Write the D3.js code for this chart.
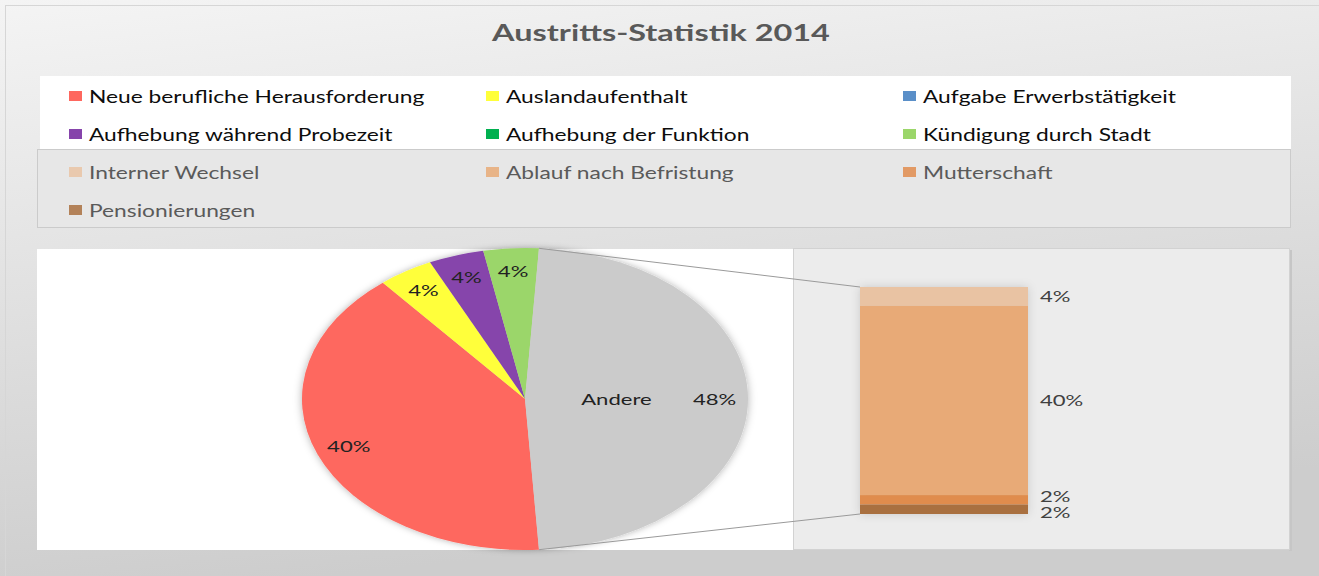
<!DOCTYPE html>
<html>
<head>
<meta charset="utf-8">
<script src="https://cdn.jsdelivr.net/npm/d3@7"></script>
<style>
  html, body { margin: 0; padding: 0; background: #fff; }
  svg { display: block; }
  text { font-family: Lato, "Open Sans", sans-serif; }
</style>
</head>
<body>
<div id="chart"></div>
<script>
// data (percent of all exits)
const title = 'Austritts-Statistik 2014';
const categories = [
  'Neue berufliche Herausforderung', 'Auslandaufenthalt', 'Aufgabe Erwerbstätigkeit',
  'Aufhebung während Probezeit', 'Aufhebung der Funktion', 'Kündigung durch Stadt',
  'Interner Wechsel', 'Ablauf nach Befristung', 'Mutterschaft', 'Pensionierungen'
];
const values = [40, 4, 0, 4, 0, 4, 4, 40, 2, 2];
const colors = [
  '#fe675e', '#ffff3a', '#5a8fc8', '#8644ab', '#00b050', '#9bd66a',
  '#e9c3a3', '#e8aa77', '#e08c4d', '#a9703f'
];
const otherCount = 4;          // last four categories are pulled into the bar
const otherLabel = 'Andere';
const otherColor = '#cbcbcb';

const W = 1319, H = 576;
const SX = 1.38;               // the original picture is stretched sideways
const pct = d3.format('.0%');

const svg = d3.select('#chart').append('svg')
  .attr('width', W).attr('height', H);

const defs = svg.append('defs');
const bg = defs.append('linearGradient').attr('id', 'bg')
  .attr('x1', 0).attr('y1', 0).attr('x2', 0.25).attr('y2', 1);
bg.append('stop').attr('offset', '0%').attr('stop-color', '#f4f4f4');
bg.append('stop').attr('offset', '100%').attr('stop-color', '#cdcdcd');

const glow = defs.append('filter').attr('id', 'glow')
  .attr('x', '-10%').attr('y', '-10%').attr('width', '120%').attr('height', '120%');
glow.append('feDropShadow').attr('dx', 0).attr('dy', 0)
  .attr('stdDeviation', 3).attr('flood-color', '#000').attr('flood-opacity', 0.3);

const glow2 = defs.append('filter').attr('id', 'glow2')
  .attr('x', '-20%').attr('y', '-20%').attr('width', '140%').attr('height', '140%');
glow2.append('feDropShadow').attr('dx', 0).attr('dy', 0)
  .attr('stdDeviation', 5).attr('flood-color', '#000').attr('flood-opacity', 0.15);

// stretched text helper
function label(parent, x, y, str, opts = {}) {
  return parent.append('text')
    .attr('transform', `translate(${x},${y}) scale(${SX},1)`)
    .attr('text-anchor', opts.anchor || 'start')
    .attr('dy', '0.35em')
    .attr('font-size', opts.size || 16)
    .attr('font-weight', opts.weight || 'normal')
    .attr('fill', opts.fill || '#222')
    .text(str);
}

// background and frame
svg.append('rect').attr('width', W).attr('height', H).attr('fill', 'url(#bg)');
svg.append('rect').attr('x', 5.5).attr('y', 5.5).attr('width', W).attr('height', H)
  .attr('fill', 'none').attr('stroke', '#d6d6d6');

label(svg, 661, 33, title, { anchor: 'middle', size: 23.5, weight: 'bold', fill: '#595959' });

// legend
const legend = svg.append('g');
legend.append('rect').attr('x', 40).attr('y', 76).attr('width', 1251).attr('height', 73)
  .attr('fill', '#fff');
legend.append('rect').attr('x', 37.5).attr('y', 149.5).attr('width', 1253).attr('height', 78)
  .attr('fill', '#e7e7e7').attr('stroke', '#cbcbcb');

const colX = [69, 486, 903];
const rowY = i => 97 + i * 38;
categories.forEach((c, i) => {
  const x = colX[i % 3], y = rowY(Math.floor(i / 3));
  const isOther = i >= categories.length - otherCount;
  legend.append('rect').attr('x', x).attr('y', y - 6).attr('width', 13).attr('height', 10)
    .attr('fill', colors[i]).attr('opacity', isOther ? 0.85 : 1);
  label(legend, x + 20, y, c, { size: 16.5, fill: isOther ? '#5a5a5a' : '#0d0d0d' });
});

// pie panel
svg.append('rect').attr('x', 37).attr('y', 249).attr('width', 756).attr('height', 301)
  .attr('fill', '#fff');

const mainN = categories.length - otherCount;
const otherTotal = d3.sum(values.slice(mainN));
const total = d3.sum(values);
const pieData = categories.slice(0, mainN).map((c, i) => ({ name: c, value: values[i], color: colors[i] }));
pieData.push({ name: otherLabel, value: otherTotal, color: otherColor, other: true });

const cx = 525, cy = 399, r = 151, rx = 1.477;
const share = otherTotal / total;
const start = Math.PI / 2 + Math.PI * share;   // "Andere" centred at 3 o'clock

const pie = d3.pie().sort(null).value(d => d.value)
  .startAngle(start).endAngle(start + 2 * Math.PI);
const arcs = pie(pieData);
const arc = d3.arc().innerRadius(0).outerRadius(r);
const labelArc = d3.arc().innerRadius(r * 0.85).outerRadius(r * 0.85);
const nameArc = d3.arc().innerRadius(r * 0.41).outerRadius(r * 0.41);

const pieG = svg.append('g')
  .attr('transform', `translate(${cx},${cy}) scale(${rx},1)`)
  .attr('filter', 'url(#glow)');
pieG.selectAll('path').data(arcs).join('path')
  .attr('d', arc).attr('fill', d => d.data.color);

const pieLabels = svg.append('g');
arcs.filter(d => d.data.value > 0).forEach(d => {
  const [lx, ly] = labelArc.centroid(d);
  label(pieLabels, cx + lx * rx, cy + ly, pct(d.data.value / total), { anchor: 'middle', size: 16, fill: '#222' });
  if (d.data.other) {
    const [nx, ny] = nameArc.centroid(d);
    label(pieLabels, cx + nx * rx, cy + ny, d.data.name, { anchor: 'middle', size: 16, fill: '#222' });
  }
});

// bar panel
svg.append('rect').attr('x', 1289).attr('y', 250).attr('width', 3).attr('height', 301)
  .attr('fill', '#c6c6c6');
svg.append('rect').attr('x', 793.5).attr('y', 248.5).attr('width', 496).attr('height', 301)
  .attr('fill', '#ececec').attr('stroke', '#d2d2d2');

const otherData = categories.slice(mainN).map((c, i) => ({
  name: c, value: values[mainN + i], color: colors[mainN + i]
}));
let acc = otherTotal;
otherData.forEach(d => { d.y1 = acc; d.y0 = acc - d.value; acc = d.y0; });

const y = d3.scaleLinear().domain([0, otherTotal]).range([514, 287]);
const x = d3.scaleBand().domain([otherLabel]).range([860, 1028]);

const barG = svg.append('g').attr('filter', 'url(#glow2)');
barG.selectAll('rect').data(otherData).join('rect')
  .attr('x', x(otherLabel)).attr('width', x.bandwidth())
  .attr('y', d => y(d.y1)).attr('height', d => y(d.y0) - y(d.y1))
  .attr('fill', d => d.color);

// labels at segment centres, pushed apart where they would overlap
const pos = otherData.map(d => y((d.y0 + d.y1) / 2));
const gap = 16;
for (let i = pos.length - 1; i > 0; i--) {
  if (pos[i] - pos[i - 1] < gap) {
    const mid = (pos[i] + pos[i - 1]) / 2;
    pos[i - 1] = mid - gap / 2; pos[i] = mid + gap / 2;
  }
}
otherData.forEach((d, i) => {
  label(svg, x(otherLabel) + x.bandwidth() + 12, pos[i], pct(d.value / total), { size: 16, fill: '#404040' });
});

// connector lines from the "Andere" slice to the bar
const other = arcs[arcs.length - 1];
const edge = a => [cx + r * rx * Math.sin(a), cy - r * Math.cos(a)];
const [tx, ty] = edge(other.startAngle);
const [bx, by] = edge(other.endAngle);
const lines = svg.append('g').attr('stroke', '#9a9a9a').attr('stroke-width', 1);
lines.append('line').attr('x1', tx).attr('y1', ty).attr('x2', x(otherLabel)).attr('y2', y(otherTotal));
lines.append('line').attr('x1', bx).attr('y1', by).attr('x2', x(otherLabel)).attr('y2', y(0));
</script>
</body>
</html>
